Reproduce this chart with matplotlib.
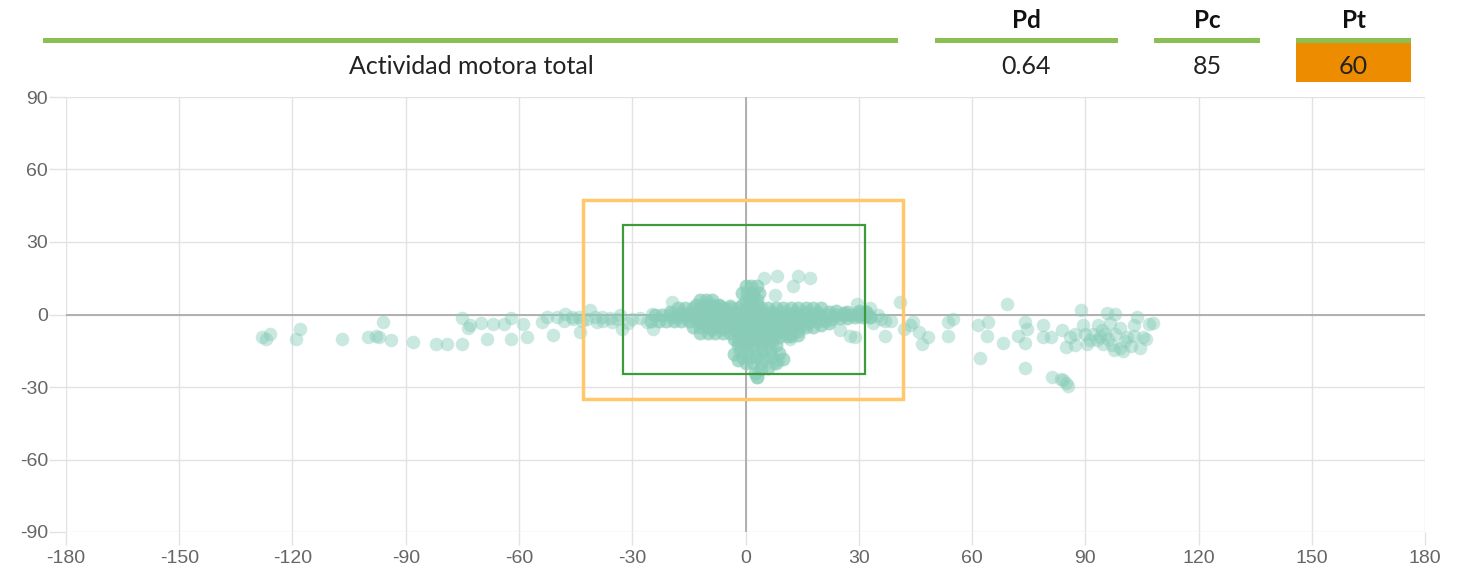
import matplotlib.pyplot as plt
from matplotlib.patches import Rectangle

plt.rcParams["axes.unicode_minus"] = False

# header table
title = "Actividad motora total"
header_labels = ["Pd", "Pc", "Pt"]
header_values = ["0.64", "85", "60"]

# axis ticks
x_ticks = [-180, -150, -120, -90, -60, -30, 0, 30, 60, 90, 120, 150, 180]
y_ticks = [-90, -60, -30, 0, 30, 60, 90]

# limit boxes (x0, y0, x1, y1)
outer_box = (-43.1, -34.8, 41.7, 47.2)
inner_box = (-32.5, -24.8, 31.7, 37.2)

# points left of the core
left_x = [-128, -126, -127, -119, -118, -107, -100, -98, -97, -96, -94, -88, -82, -79,
          -75, -75, -73.5, -73, -70, -67, -64, -62, -68.5, -62, -58, -59, -54, -51,
          -52.6, -50, -47.8, -45.6, -43.3, -41.2, -39.4, -37.8, -35.4, -33.3, -32.7,
          -43.9, -48, -46, -44, -42, -40, -38, -36, -34, -31, -30, -28, -26, -24.5,
          -24.8, -19.5]
left_y = [-9.5, -8, -10, -10, -6, -10, -9.5, -9, -9.5, -3, -10.5, -11.5, -12.4, -12,
          -12.4, -1.6, -5.4, -4.5, -3.7, -4, -4, -1.6, -10.3, -10, -9.5, -4, -3.3, -8.3,
          -1.2, -1.2, 0.4, -1.7, -2.5, 1.7, -3.3, -2.5, -2.9, -0.4, -5.8,
          -7.4, -2.5, -1, -1, -2, -1, -1, -1.5, -2, -3.7, -2, -1.5, -3, -5.8,
          0.4, 5]

# dense core, row by row
core_x = [0, 1.5, 3,
          -1, 0.5, 2, 3.5,
          -12, -10.5, -9, 0, 1.5, 3,
          -13, -11, -9, -7, -1, 1, 3,
          -18, -16, -14, -12, -10, -8, -6, -4, -2, 0, 2, 4, 6, 8, 10, 12, 14, 16, 18, 20,
          24, 27, 30, 32,
          -24, -22, -20, -18, -16, -14, -12, -10, -8, -6, -4, -2, 0, 2, 4, 6, 8, 10, 12,
          14, 16, 18, 20, 22, 24, 26, 28, 30, 32,
          -25, -23, -21, -19, -17, -15, -13, -11, -9, -7, -5, -3, -1, 1, 3, 5, 7, 9, 11,
          13, 15, 17, 19, 21, 23, 25, 27, 29, 31, 33,
          -14, -12, -10, -8, -6, -4, -2, 0, 2, 4, 6, 8, 10, 12, 14, 16, 18, 20, 22,
          -12, -10, -8, -6, -4, -2, 0, 2, 4, 6, 8, 10, 12, 14,
          -3, -1, 1, 3, 5, 7, 9, 11,
          -2, 0, 2, 4, 6, 8,
          -1.5, 0.5, 2.5, 4.5, 6.5,
          -1, 1, 3, 5, 7,
          0, 2, 4, 8,
          2.5, 3]
core_y = [12, 12, 12,
          9, 9, 9, 9,
          6, 6, 6, 6, 6, 6,
          4, 4, 4, 4, 4, 4, 4,
          2.5, 2.5, 2.5, 2.5, 2.5, 2.5, 2.5, 2.5, 2.5, 2.5, 2.5, 2.5, 2.5, 2.5, 2.5, 2.5,
          2.5, 2.5, 2.5, 2.5, 1.5, 1, 1.5, 1,
          0, 0, 0, 0, 0, 0, 0, 0, 0, 0, 0, 0, 0, 0, 0, 0, 0, 0, 0,
          0, 0, 0, 0, 0, 0, 0, 0, 0, 0,
          -2.5, -2.5, -2.5, -2.5, -2.5, -2.5, -2.5, -2.5, -2.5, -2.5, -2.5, -2.5, -2.5,
          -2.5, -2.5, -2.5, -2.5, -2.5, -2.5, -2.5, -2.5, -2.5, -2.5, -2.5, -2, -1.5,
          -1.5, -1, -1, -1,
          -5, -5, -5, -5, -5, -5, -5, -5, -5, -5, -5, -5, -5, -5, -5, -5, -5, -4.5, -3.5,
          -7.5, -7.5, -7.5, -7.5, -7.5, -7.5, -7.5, -7.5, -7.5, -7.5, -7.5, -7.5, -7.5, -7,
          -10, -10, -10, -10, -10, -10, -9.5, -9,
          -12.5, -12.5, -12.5, -12.5, -12.5, -12.5,
          -15, -15, -15, -15, -15,
          -17.5, -17.5, -17.5, -17.5, -17.5,
          -20, -20, -20, -20,
          -24, -26]

# extra fill inside the core, offset rows
fill_x = [-20, -17, -14, -11, -8, -5, -2, 1, 4, 7, 10, 13, 16, 19, 22, 26, 30,
          -19, -16, -13, -10, -7, -4, -1, 2, 5, 8, 11, 14, 17, 20,
          -11, -8, -5, -2, 1, 4, 7, 10, 13, 16,
          -9, -6, -3, 0, 3, 6, 9,
          -2, 1, 4, 7, -10, -7, -4, 2,
          -3, 9, 10, -2, 6, 4, 12, 14]
fill_y = [1.2, 1.2, 1.2, 1.2, 1.2, 1.2, 1.2, 1.2, 1.2, 1.2, 1.2, 1.2, 1.2, 1.2, 1.2, 0.5, 0.5,
          -1.2, -1.2, -1.2, -1.2, -1.2, -1.2, -1.2, -1.2, -1.2, -1.2, -1.2, -1.2, -1.2, -1.2,
          -3.8, -3.8, -3.8, -3.8, -3.8, -3.8, -3.8, -3.8, -3.8, -3.8,
          -6.2, -6.2, -6.2, -6.2, -6.2, -6.2, -6.2,
          -11, -11, -11, -11, 3.5, 3.5, 3.5, 7.5,
          -16.5, -16, -18.5, -19, -22, -22.5, -9, -8.5]

# loose points around and right of the core
right_x = [5, 8.3, 12.6, 14, 17, 7.8, 11.8, 3, 7.3, 8.5,
           25, 27.7, 29, 29.5, 33, 33.8, 30, 32, 33, 35, 36,
           41, 37, 38.5, 37, 42, 43.6, 44.4, 46, 46.8, 48.4, 53.7, 53.7, 55, 61.6, 62,
           64, 64.3, 69.3, 68.3, 72.2, 74, 74, 74, 74.6, 78.8, 78.8, 81, 83.8, 86, 85,
           87.3, 87.3, 89, 89.4, 90, 93.4, 94, 95.8, 98, 96.6, 95.3, 94.8, 97, 99.3, 100,
           99.3, 101, 103.7, 103, 103, 105.3, 106, 104.6, 108, 97.5, 93, 94.5, 91.3,
           81.2, 84, 85, 85.5, 83.5, 92, 96, 98, 100.5, 102, 107, 90.5]
right_y = [15, 16, 12, 16, 15, 8, -10, -26, -20, -19,
           -6.6, -8.7, -9.5, 4.5, 2.5, -3.7, -0.5, 1, -1, 0, -2,
           5, -2.5, -2.5, -8.7, -5.8, -4.5, -3.3, -7.4, -12, -9.5, -8.7, -3.3, -2, -4.5,
           -17.8, -8.7, -3.3, 4.5, -11.6, -8.7, -3.3, -11.6, -22.3, -5.8, -4.5, -9.5,
           -9.5, -6.6, -9.5, -13.6, -12.8, -7.9, 1.7, -4.5, -7.9, -4.5, -9.5, 0.8, 0.4,
           -3.7, -7.9, -12, -12.8, -14, -14.9, -5.4, -9.5, -1.2, -4.5, -8.7, -9.5, -10,
           -14, -3.7, -14.5, -10.7, -6.6, -10.7,
           -26, -27.3, -28.5, -29.4, -26.8, -8, -10, -8, -11, -13, -4, -12]

W, H = 1461, 576
green = "#8bbf55"
orange = "#ee8c00"
dot = "#88ccb8"

fig = plt.figure(figsize=(W / 100, H / 100), dpi=100)


def px_rect(x0, y0, x1, y1, color):
    fig.patches.append(Rectangle((x0 / W, 1 - y1 / H), (x1 - x0) / W, (y1 - y0) / H,
                                 transform=fig.transFigure, color=color, lw=0))


# header
px_rect(43, 38, 898, 43, green)
fig.text(471 / W, 1 - 66 / H, title, ha="center", va="center", fontsize=18,
         family="Lato", color="#222")
col_spans = [(935, 1118), (1154, 1260), (1296, 1411)]
for (a, b), lab, val in zip(col_spans, header_labels, header_values):
    cx = (a + b) / 2
    if lab == "Pt":
        px_rect(a, 43, b, 82, orange)
    px_rect(a, 38, b, 43, green)
    fig.text(cx / W, 1 - 21 / H, lab, ha="center", va="center", fontsize=17.5,
             family="Lato", fontweight="bold", color="#111")
    fig.text(cx / W, 1 - 66 / H, val, ha="center", va="center", fontsize=18,
             family="Lato", color="#222")

# scatter
ax = fig.add_axes([66 / W, 44 / H, 1359 / W, 435 / H])
ax.set_xlim(-180, 180)
ax.set_ylim(-90, 90)
ax.set_xticks(x_ticks)
ax.set_yticks(y_ticks)
for s in ax.spines.values():
    s.set_visible(False)
ax.grid(color="#e2e2e2", lw=1)
ax.set_axisbelow(True)
ax.axhline(0, color="#ababab", lw=1.3, zorder=1)
ax.axvline(0, color="#ababab", lw=1.3, zorder=1)
ax.tick_params(axis="x", length=9, width=1, color="#e2e2e2", pad=4,
               labelsize=14, labelcolor="#666")
ax.tick_params(axis="y", length=12, width=1, color="#e2e2e2", pad=1,
               labelsize=14, labelcolor="#666")
for lbl in ax.get_xticklabels() + ax.get_yticklabels():
    lbl.set_family("Liberation Sans")

# loose points light, the core where they pile up nearly opaque
ax.scatter(left_x + right_x, left_y + right_y, s=95, color=dot, alpha=0.45,
           lw=0, zorder=3)
ax.scatter(core_x + fill_x, core_y + fill_y, s=100, color=dot, alpha=0.7,
           lw=0, zorder=3)

for box, col, lw in [(outer_box, "#ffc96b", 2.5), (inner_box, "#3c9c3c", 1.6)]:
    x0, y0, x1, y1 = box
    ax.add_patch(Rectangle((x0, y0), x1 - x0, y1 - y0, fill=False, edgecolor=col,
                           lw=lw, zorder=4))

fig.savefig("out.png", dpi=100)
